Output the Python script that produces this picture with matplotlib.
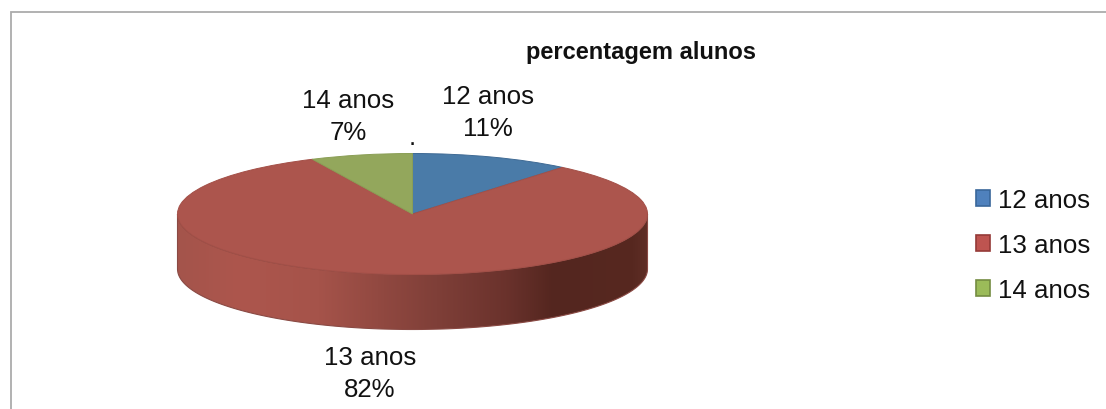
import matplotlib
matplotlib.use("Agg")
import matplotlib.pyplot as plt
import numpy as np
from matplotlib.colors import LinearSegmentedColormap
from matplotlib.patches import Patch, Polygon

plt.rcParams["font.family"] = ["Liberation Sans", "DejaVu Sans"]

# ---- Data ----
title = "percentagem alunos"
categories = ["12 anos", "13 anos", "14 anos"]
percent = [11, 82, 7]

# ---- Styles ----
TOP_COLORS = ["#4A7BA8", "#AC554D", "#93A75C"]
EDGE_COLORS = ["#3F6A94", "#A34F47", "#8A9E55"]
LEGEND_FILL = ["#4F81BD", "#BE5450", "#9BBB59"]
LEGEND_EDGE = ["#3A679B", "#953A37", "#748C42"]
LABEL_POS = [(488, 113), (370, 374), (348, 117)]

W, H = 1106, 410
CX, CY = 412.5, 215.0   # top ellipse centre (px)
RX, RY = 235.0, 60.5
DEPTH = 55.0

fig = plt.figure(figsize=(W / 100, H / 100), dpi=100, facecolor="white")

# overlay in pixel coordinates
ax = fig.add_axes([0, 0, 1, 1], zorder=0)
ax.set_xlim(0, W)
ax.set_ylim(H, 0)
ax.axis("off")

# chart frame, open at the right and bottom of the crop
ax.plot([10.5, 10.5, W], [H, 12.5, 12.5], color="#ABABAB", linewidth=1.3, solid_joinstyle="miter")

# ---- Side wall ----
t = np.linspace(np.pi, 0, 200)
top_x = CX + RX * np.cos(t)
top_y = CY + RY * np.sin(t)
wall_xy = np.r_[np.c_[top_x, top_y], np.c_[top_x[::-1], top_y[::-1] + DEPTH]]

wall_cmap = LinearSegmentedColormap.from_list("wall", [
    (0.00, "#A4544B"), (0.13, "#AD564D"), (0.30, "#A5534A"), (0.55, "#7F3F38"),
    (0.70, "#6A322C"), (0.80, "#54261F"), (0.97, "#572820"), (1.00, "#5F2E26"),
])
grad = np.linspace(0, 1, 256).reshape(1, -1)
im = ax.imshow(grad, cmap=wall_cmap, aspect="auto", zorder=1,
               extent=[CX - RX, CX + RX, CY + RY + DEPTH, CY])
ax.set_xlim(0, W)
ax.set_ylim(H, 0)
clip = Polygon(wall_xy, closed=True, transform=ax.transData, facecolor="none",
               edgecolor="#8A4A44", linewidth=0.8, zorder=2)
ax.add_patch(clip)
im.set_clip_path(clip)

# ---- Pie top, squashed by its axes box ----
pie_ax = fig.add_axes([(CX - RX) / W, 1 - (CY + RY) / H, 2 * RX / W, 2 * RY / H], zorder=1)
pie_ax.patch.set_alpha(0)
wedges, _ = pie_ax.pie(percent, colors=TOP_COLORS, startangle=90, counterclock=False, radius=1,
                       wedgeprops={"linewidth": 0.7})
for w, c in zip(wedges, EDGE_COLORS):
    w.set_edgecolor(c)
pie_ax.set_xlim(-1, 1)
pie_ax.set_ylim(-1, 1)
pie_ax.set_aspect("auto")

# ---- Text ----
ax.text(640.5, 52, title, fontsize=17, fontweight="bold", ha="center", va="center", color="#111111")
for cat, pct, (x, y) in zip(categories, percent, LABEL_POS):
    ax.text(x, y, f"{cat}\n{pct}%", fontsize=18.6, ha="center", va="center",
            linespacing=1.41, color="#111111")
ax.text(412.5, 138, ".", fontsize=18.6, ha="center", va="center", color="#111111")

# ---- Legend ----
handles = [Patch(facecolor=f, edgecolor=e, linewidth=1.2) for f, e in zip(LEGEND_FILL, LEGEND_EDGE)]
fig.legend(handles, categories, loc="center left", bbox_to_anchor=(975.5 / W, 1 - 246 / H),
           bbox_transform=fig.transFigure, frameon=False, fontsize=18.6, labelcolor="#111111",
           handlelength=0.58, handleheight=0.58, handletextpad=0.3, labelspacing=0.82,
           borderpad=0, borderaxespad=0)

fig.savefig("out.png", dpi=100, facecolor="white")
